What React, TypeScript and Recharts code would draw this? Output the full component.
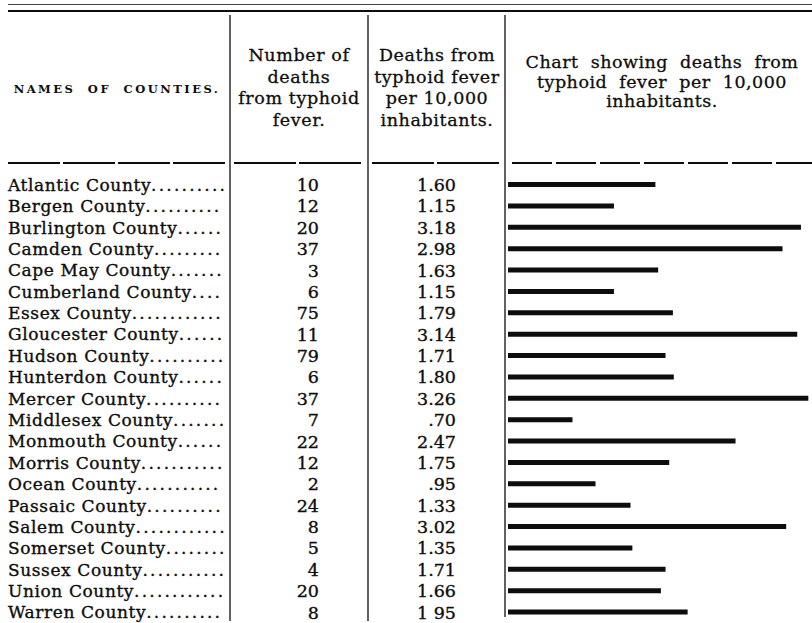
import React from "react";
import { BarChart, Bar, XAxis, YAxis } from "recharts";

const counties = [
  "Atlantic County",
  "Bergen County",
  "Burlington County",
  "Camden County",
  "Cape May County",
  "Cumberland County",
  "Essex County",
  "Gloucester County",
  "Hudson County",
  "Hunterdon County",
  "Mercer County",
  "Middlesex County",
  "Monmouth County",
  "Morris County",
  "Ocean County",
  "Passaic County",
  "Salem County",
  "Somerset County",
  "Sussex County",
  "Union County",
  "Warren County",
];

const deaths = [10, 12, 20, 37, 3, 6, 75, 11, 79, 6, 37, 7, 22, 12, 2, 24, 8, 5, 4, 20, 8];

const ratePer10k = [
  1.6, 1.15, 3.18, 2.98, 1.63, 1.15, 1.79, 3.14, 1.71, 1.8, 3.26, 0.7, 2.47, 1.75, 0.95, 1.33,
  3.02, 1.35, 1.71, 1.66, 1.95,
];

// as printed in the table column
const rateLabels = [
  "1.60", "1.15", "3.18", "2.98", "1.63", "1.15", "1.79", "3.14", "1.71", "1.80", "3.26",
  ".70", "2.47", "1.75", ".95", "1.33", "3.02", "1.35", "1.71", "1.66", "1 95",
];

const header2 = ["Number of", "deaths", "from typhoid", "fever."];
const header3 = ["Deaths from", "typhoid fever", "per 10,000", "inhabitants."];
const header4 = ["Chart showing deaths from", "typhoid fever per 10,000", "inhabitants."];

const FONT = '"DejaVu Serif", "Liberation Serif", serif';
const INK = "#0d0d0d";
const NAME_SIZE = 17;
const NAME_SPACING = 0.6;
const DOT_SPACING = 2.2;
const LEADER_END = 228;

const data = counties.map((c, i) => ({
  county: c,
  deaths: deaths[i],
  rate: ratePer10k[i],
  rateLabel: rateLabels[i],
}));

let ctx: CanvasRenderingContext2D | null = null;
function measure(s: string, spacing: number) {
  if (!ctx) ctx = document.createElement("canvas").getContext("2d");
  if (!ctx) return s.length * 9;
  ctx.font = `${NAME_SIZE}px "DejaVu Serif"`;
  return ctx.measureText(s).width + spacing * s.length;
}

function leaderFor(name: string) {
  const used = 8 + measure(name, NAME_SPACING);
  const dot = measure(".", DOT_SPACING);
  const n = Math.max(2, Math.floor((LEADER_END - used) / dot));
  return ".".repeat(n);
}

const inkText = { stroke: INK, strokeWidth: 0.35 };

function RowTick(props: any) {
  const { y, payload } = props;
  const i = counties.indexOf(payload.value);
  return (
    <g>
      <text x={8} y={y} dy="0.36em" fontFamily={FONT} fontSize={NAME_SIZE} fill={INK} {...inkText}>
        <tspan letterSpacing={NAME_SPACING}>{payload.value}</tspan>
        <tspan letterSpacing={DOT_SPACING}>{leaderFor(payload.value)}</tspan>
      </text>
      <text
        x={319}
        y={y}
        dy="0.36em"
        textAnchor="end"
        fontFamily={FONT}
        fontSize={17.5}
        fill={INK}
        {...inkText}
      >
        {deaths[i]}
      </text>
      <text
        x={456}
        y={y}
        dy="0.36em"
        textAnchor="end"
        fontFamily={FONT}
        fontSize={17.5}
        fill={INK}
        {...inkText}
      >
        {rateLabels[i]}
      </text>
    </g>
  );
}

function HeaderBlock({ lines, center, top, lineHeight, width, wordSpacing, letterSpacing }: any) {
  return (
    <div
      style={{
        position: "absolute",
        left: center - width / 2,
        top,
        width,
        textAlign: "center",
        fontFamily: FONT,
        fontSize: 17.5,
        lineHeight: `${lineHeight}px`,
        color: INK,
        wordSpacing: wordSpacing || 0,
        letterSpacing: letterSpacing || 0,
        whiteSpace: "nowrap",
        WebkitTextStroke: "0.3px #0d0d0d",
      }}
    >
      {lines.map((l: string, i: number) => (
        <div key={i}>{l}</div>
      ))}
    </div>
  );
}

export default function App() {
  return (
    <div
      style={{
        position: "absolute",
        left: 0,
        top: 0,
        width: 812,
        height: 623,
        background: "#FFFFFF",
        overflow: "hidden",
      }}
    >
      <BarChart
        width={812}
        height={623}
        data={data}
        layout="vertical"
        margin={{ top: 174, right: 0, bottom: 0, left: 0 }}
        barCategoryGap={0}
      >
        <XAxis type="number" domain={[0, 3.3]} hide />
        <YAxis
          type="category"
          dataKey="county"
          width={508}
          axisLine={false}
          tickLine={false}
          interval={0}
          tick={<RowTick />}
        />
        <Bar dataKey="rate" fill={INK} barSize={5} isAnimationActive={false} />
      </BarChart>

      <svg
        width={812}
        height={623}
        style={{ position: "absolute", left: 0, top: 0, pointerEvents: "none" }}
      >
        <line x1={8} x2={812} y1={4.5} y2={4.5} stroke="#444" strokeWidth={1} />
        <line x1={8} x2={812} y1={11} y2={11} stroke={INK} strokeWidth={1.8} />
        <line x1={230} x2={230} y1={15} y2={621} stroke={INK} strokeWidth={1.3} />
        <line x1={368} x2={368} y1={15} y2={621} stroke={INK} strokeWidth={1.3} />
        <line x1={505} x2={505} y1={15} y2={617} stroke={INK} strokeWidth={1.3} />
        <line x1={8} x2={226} y1={163} y2={163} stroke={INK} strokeWidth={2} strokeDasharray="52 3" />
        <line x1={234} x2={362} y1={163} y2={163} stroke={INK} strokeWidth={2} strokeDasharray="62 3" />
        <line x1={372} x2={500} y1={163} y2={163} stroke={INK} strokeWidth={2} strokeDasharray="62 3" />
        <line x1={512} x2={812} y1={163} y2={163} stroke={INK} strokeWidth={2} strokeDasharray="40 4" />
      </svg>

      <div
        style={{
          position: "absolute",
          left: 8,
          top: 82,
          width: 218,
          textAlign: "center",
          fontFamily: FONT,
          fontSize: 11.5,
          fontWeight: 700,
          letterSpacing: 2.5,
          wordSpacing: 6,
          color: INK,
          whiteSpace: "nowrap",
        }}
      >
        NAMES OF COUNTIES.
      </div>
      <HeaderBlock lines={header2} center={299} top={45} lineHeight={21.5} width={136} letterSpacing={0.6} />
      <HeaderBlock lines={header3} center={437} top={45} lineHeight={21.5} width={136} letterSpacing={0.6} />
      <HeaderBlock
        lines={header4}
        center={662}
        top={53}
        lineHeight={19.5}
        width={300}
        wordSpacing={6}
        letterSpacing={0.5}
      />
    </div>
  );
}
